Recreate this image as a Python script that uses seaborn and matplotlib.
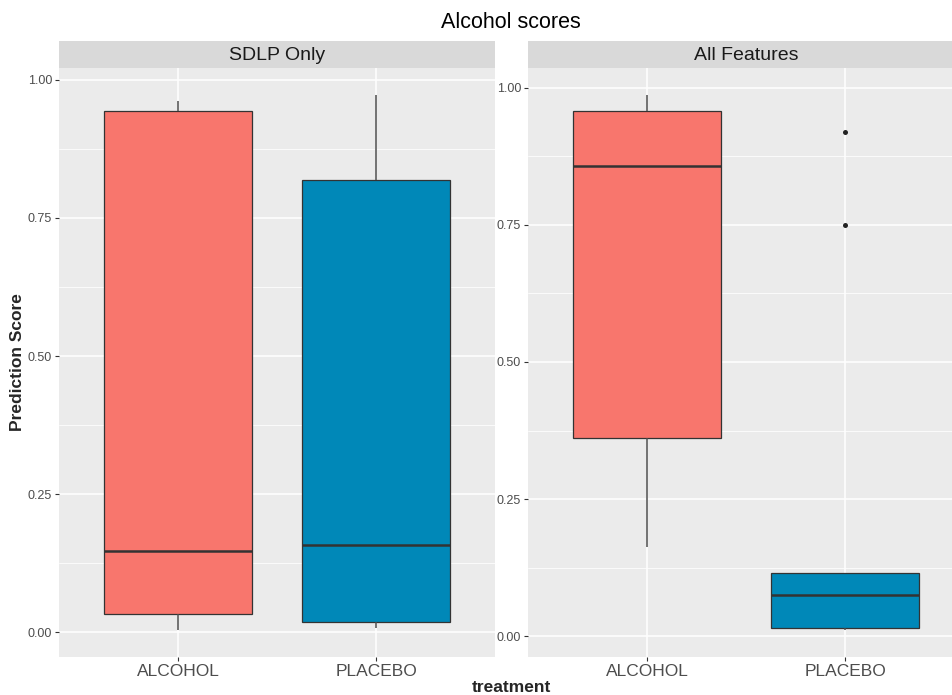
import numpy as np
import pandas as pd
import matplotlib
matplotlib.use("Agg")
import matplotlib.pyplot as plt
from matplotlib.patches import Rectangle
from matplotlib.ticker import FixedLocator, FormatStrFormatter
import seaborn as sns

# Five-number summaries (whisker low, Q1, median, Q3, whisker high) per panel
treatments = ["ALCOHOL", "PLACEBO"]
panels = ["SDLP Only", "All Features"]

sdlp_alcohol = [0.004, 0.034, 0.147, 0.944, 0.962]
sdlp_placebo = [0.008, 0.018, 0.158, 0.819, 0.973]
all_alcohol = [0.162, 0.361, 0.858, 0.958, 0.987]
all_placebo = [0.011, 0.0146, 0.075, 0.115, 0.116]

# Outlying points
all_placebo_outliers = [0.75, 0.92]

colors = {"ALCOHOL": "#F8766D", "PLACEBO": "#0088B8"}
y_ticks = [0.0, 0.25, 0.50, 0.75, 1.00]

sns.set_theme(style="darkgrid")
plt.rcParams["font.family"] = ["Liberation Sans", "DejaVu Sans"]
plt.rcParams["axes.facecolor"] = "#EBEBEB"
plt.rcParams["figure.facecolor"] = "white"

W, H = 952, 695
fig = plt.figure(figsize=(W / 100, H / 100), dpi=100)


def frac_box(x0, y0, x1, y1):
    return [x0 / W, 1 - y1 / H, (x1 - x0) / W, (y1 - y0) / H]


ax_left = fig.add_axes(frac_box(59, 68, 495, 657))
ax_right = fig.add_axes(frac_box(528, 68, 952, 657))

panel_data = [
    (ax_left, {"ALCOHOL": sdlp_alcohol, "PLACEBO": sdlp_placebo}, [], (-0.6, 1.6)),
    (ax_right, {"ALCOHOL": all_alcohol, "PLACEBO": all_placebo}, all_placebo_outliers,
     (-0.6, -0.6 + 2.2 * (952 - 528) / (495 - 59))),
]

for ax, groups, outliers, xlim in panel_data:
    df = pd.DataFrame(
        [(t, v) for t in treatments for v in groups[t]],
        columns=["treatment", "score"],
    )
    sns.boxplot(
        data=df, x="treatment", y="score", hue="treatment", order=treatments,
        palette=colors, saturation=1, width=0.75, whis=(0, 100),
        showfliers=False, linecolor="#333333", linewidth=0.9,
        whiskerprops={"color": "#4D4D4D", "linewidth": 1.1},
        medianprops={"linewidth": 1.8, "color": "#333333"},
        capprops={"visible": False},
        legend=False, ax=ax, zorder=3,
    )
    if outliers:
        out_df = pd.DataFrame({"treatment": ["PLACEBO"] * len(outliers), "score": outliers})
        sns.stripplot(data=out_df, x="treatment", y="score", order=treatments,
                      jitter=False, color="#222222", size=3.6, ax=ax, zorder=4)

    # ggplot-style 5% expansion of the continuous scale
    all_vals = [v for t in treatments for v in groups[t]] + list(outliers)
    lo, hi = min(all_vals), max(all_vals)
    pad = 0.05 * (hi - lo)
    ax.set_ylim(lo - pad, hi + pad)
    ax.set_xlim(*xlim)

    ax.yaxis.set_major_locator(FixedLocator(y_ticks))
    ax.yaxis.set_minor_locator(FixedLocator([0.125, 0.375, 0.625, 0.875]))
    ax.yaxis.set_major_formatter(FormatStrFormatter("%.2f"))
    ax.grid(True, which="major", color="white", linewidth=1.1, zorder=0)
    ax.grid(True, which="minor", axis="y", color="white", linewidth=0.55, zorder=0)
    ax.set_axisbelow(True)
    for s in ax.spines.values():
        s.set_visible(False)
    ax.tick_params(axis="y", which="major", labelsize=9, labelcolor="#4D4D4D",
                   length=3, width=0.8, color="#333333", left=True, pad=2)
    ax.tick_params(axis="y", which="minor", length=0)
    ax.tick_params(axis="x", labelsize=12.5, labelcolor="#4D4D4D",
                   length=3, width=0.8, color="#333333", bottom=True, pad=2)
    ax.set_xlabel("")
    ax.set_ylabel("")

# Facet strips
for (x0, x1), name in zip([(59, 495), (528, 952)], panels):
    fig.patches.append(Rectangle((x0 / W, 1 - 68 / H), (x1 - x0) / W, 27 / H,
                                 transform=fig.transFigure, facecolor="#D9D9D9",
                                 edgecolor="none"))
for cx, name in zip([277, 746], panels):
    fig.text(cx / W, 1 - 55 / H, name, ha="center", va="center",
             fontsize=14, color="#1A1A1A")

fig.text(511 / W, 1 - 22 / H, "Alcohol scores", ha="center", va="center",
         fontsize=15.5, color="black")
fig.text(511 / W, 1 - 687 / H, "treatment", ha="center", va="center",
         fontsize=12.5, fontweight="bold")
fig.text(18 / W, 1 - 362 / H, "Prediction Score", ha="center", va="center",
         rotation=90, fontsize=12.5, fontweight="bold")

fig.savefig("out.png", dpi=100)
